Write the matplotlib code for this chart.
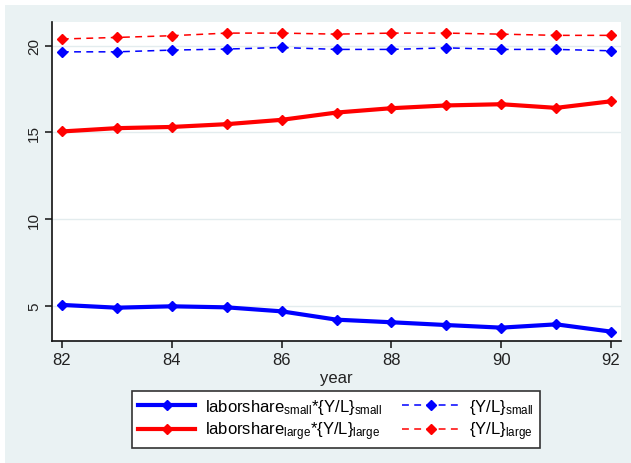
import matplotlib
matplotlib.use("Agg")
import matplotlib.pyplot as plt
from matplotlib.patches import Rectangle

plt.rcParams['font.family'] = ['Liberation Sans', 'DejaVu Sans']
plt.rcParams['mathtext.fontset'] = 'custom'
plt.rcParams['mathtext.rm'] = 'Liberation Sans'
plt.rcParams['mathtext.it'] = 'Liberation Sans:italic'
plt.rcParams['mathtext.bf'] = 'Liberation Sans:bold'

years = [82, 83, 84, 85, 86, 87, 88, 89, 90, 91, 92]
ls_yl_small = [5.06, 4.90, 4.98, 4.92, 4.69, 4.21, 4.06, 3.90, 3.75, 3.94, 3.52]
ls_yl_large = [15.06, 15.25, 15.32, 15.48, 15.73, 16.15, 16.40, 16.56, 16.63, 16.42, 16.80]
yl_small = [19.65, 19.65, 19.75, 19.81, 19.90, 19.79, 19.79, 19.88, 19.79, 19.79, 19.71]
yl_large = [20.39, 20.48, 20.58, 20.73, 20.73, 20.67, 20.73, 20.73, 20.67, 20.60, 20.60]
xticks = [82, 84, 86, 88, 90, 92]
yticks = [5, 10, 15, 20]
labels = [r'laborshare$_\mathrm{small}$*{Y/L}$_\mathrm{small}$',
          r'laborshare$_\mathrm{large}$*{Y/L}$_\mathrm{large}$',
          r'{Y/L}$_\mathrm{small}$',
          r'{Y/L}$_\mathrm{large}$']

W, H = 631, 464
fig = plt.figure(figsize=(W / 100, H / 100), dpi=100)
fig.patch.set_facecolor('white')
bg = '#EAF2F3'
fig.add_artist(Rectangle((5 / W, 0), 1 - 5 / W, 1 - 6 / H, transform=fig.transFigure,
                         facecolor=bg, edgecolor='none', zorder=-10))

left, right, top, bottom = 52, 621, 23, 342
ax = fig.add_axes([left / W, 1 - bottom / H, (right - left) / W, (bottom - top) / H])
ax.set_facecolor('white')

blue, red = '#0000FF', '#FF0000'
h1, = ax.plot(years, ls_yl_small, color=blue, lw=3.0, marker='D', ms=5, zorder=3)
h2, = ax.plot(years, ls_yl_large, color=red, lw=3.0, marker='D', ms=5, zorder=3)
h3, = ax.plot(years, yl_small, color=blue, lw=1.1, ls=(0, (4.5, 3.5)), marker='D', ms=5.5, zorder=3)
h4, = ax.plot(years, yl_large, color=red, lw=1.1, ls=(0, (4.5, 3.5)), marker='D', ms=5.5, zorder=3)

ax.set_xlim(81.82, 92.18)
ax.set_ylim(2.98, 21.37)
ax.set_xticks(xticks)
ax.set_yticks(yticks)
ax.yaxis.grid(True, color='#E3ECEE', lw=1.0)
ax.set_axisbelow(True)
for s in ['top', 'right']:
    ax.spines[s].set_visible(False)
for s in ['left', 'bottom']:
    ax.spines[s].set_color('#111111')
    ax.spines[s].set_linewidth(1.2)
ax.tick_params(axis='x', length=5, width=1.1, color='#111111', labelsize=12, pad=3, labelcolor='#222222')
ax.tick_params(axis='y', length=5, width=1.1, color='#111111', labelsize=11, pad=3, labelcolor='#222222')
for t in ax.get_yticklabels():
    t.set_rotation(90)
    t.set_va('center')
ax.set_xlabel('year', fontsize=12, color='#222222', labelpad=2)

leg = fig.legend([h1, h2, h3, h4], labels, ncol=2, loc='center',
                 bbox_to_anchor=((139 + 533) / 2 / W, 1 - (395 + 446) / 2 / H),
                 fontsize=12, frameon=True, fancybox=False, framealpha=1,
                 facecolor='white', edgecolor='#333333', handlelength=3.4,
                 handletextpad=0.6, columnspacing=1.2, labelspacing=0.25,
                 borderpad=0.35, borderaxespad=0)
leg.get_frame().set_linewidth(1.2)
for h in leg.legend_handles:
    h.set_markersize(5)

fig.savefig('out.png', dpi=100, facecolor=fig.get_facecolor())
